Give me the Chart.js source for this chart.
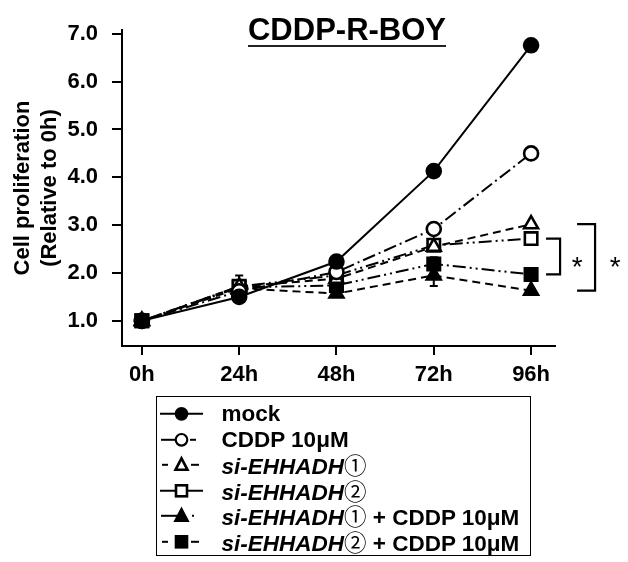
<!DOCTYPE html>
<html><head><meta charset="utf-8">
<script src="https://cdn.jsdelivr.net/npm/chart.js@4.4.1/dist/chart.umd.min.js"></script>
<style>
html,body{margin:0;padding:0;background:#fff;}
#wrap{position:relative;width:628px;height:562px;overflow:hidden;background:#fff;}
#c{position:absolute;left:0;top:0;}
#legend{position:absolute;left:156px;top:396px;width:375px;height:160px;border:1.8px solid #000;box-sizing:border-box;
  font-family:"Liberation Sans",Arial,sans-serif;font-weight:bold;font-size:22.5px;color:#000;padding-top:4px;}
.row{height:25.6px;line-height:25.6px;position:relative;white-space:nowrap;}
.row svg{position:absolute;left:2px;top:0;}
.row .t{position:absolute;left:64.5px;top:0;}
.cd{font-family:"Noto Sans CJK JP","DejaVu Sans",sans-serif;font-style:normal;font-weight:normal;}
</style></head>
<body><div id="wrap"><canvas id="c" width="628" height="562"></canvas><div id="legend"></div></div>
<script>
// ---- data ----
const hours = [0, 24, 48, 72, 96];
const xTickLabels = ['0h', '24h', '48h', '72h', '96h'];
const yTickValues = [1, 2, 3, 4, 5, 6, 7];
const seriesLabels = ['mock', 'CDDP 10μM', 'si-EHHADH①', 'si-EHHADH②', 'si-EHHADH① + CDDP 10μM', 'si-EHHADH② + CDDP 10μM'];
const mock      = [1.00, 1.50, 2.24, 4.13, 6.76];
const cddp      = [1.00, 1.62, 2.02, 2.92, 4.50];
const siE1      = [1.00, 1.72, 1.88, 2.55, 3.02];
const siE2      = [1.00, 1.72, 1.95, 2.58, 2.72];
const siE1Cddp  = [1.00, 1.68, 1.57, 1.95, 1.63];
const siE2Cddp  = [1.00, 1.70, 1.74, 2.19, 1.97];
const mockErr     = [0.02, 0.04, 0.05, 0.06, 0.05];
const cddpErr     = [0.02, 0.05, 0.05, 0.05, 0.05];
const siE1Err     = [0.02, 0.05, 0.05, 0.06, 0.04];
const siE2Err     = [0.02, 0.05, 0.05, 0.06, 0.04];
const siE1CddpErr = [0.02, 0.06, 0.05, 0.22, 0.04];
const siE2CddpErr = [0.02, 0.25, 0.08, 0.14, 0.04];

const FONT = '"Liberation Sans", Arial, sans-serif';
const values = [mock, cddp, siE1, siE2, siE1Cddp, siE2Cddp];
const errs = [mockErr, cddpErr, siE1Err, siE2Err, siE1CddpErr, siE2CddpErr];
const styles = [
  {shape:'circle',   fill:true,  r:7,   dash:[]},
  {shape:'circle',   fill:false, r:7,   dash:[13,4,2,4]},
  {shape:'triangle', fill:false, r:8,   dash:[8,5]},
  {shape:'rect',     fill:false, r:8.8, dash:[13,4,2,4,2,4]},
  {shape:'triangle', fill:true,  r:8,   dash:[8,5]},
  {shape:'rect',     fill:true,  r:8.8, dash:[13,4,2,4,2,4]}
];

const datasets = values.map((v, i) => ({
  label: seriesLabels[i],
  data: hours.map((h, j) => ({x: h, y: v[j]})),
  borderColor: '#000',
  borderWidth: 2,
  borderDash: styles[i].dash,
  pointStyle: styles[i].shape,
  pointRadius: styles[i].r,
  pointHoverRadius: styles[i].r,
  pointBackgroundColor: styles[i].fill ? '#000' : '#fff',
  pointBorderColor: '#000',
  pointBorderWidth: 2.6,
  tension: 0,
  fill: false
}));

const titlePlugin = {
  id: 'titleUnderline',
  afterDraw(chart) {
    const ctx = chart.ctx;
    const text = 'CDDP-R-BOY';
    ctx.save();
    ctx.font = 'bold 31px ' + FONT;
    ctx.fillStyle = '#000';
    ctx.textAlign = 'center';
    ctx.textBaseline = 'middle';
    const cx = 347, cy = 31;
    ctx.fillText(text, cx, cy);
    const w = ctx.measureText(text).width;
    ctx.strokeStyle = '#222';
    ctx.lineWidth = 2.2;
    ctx.beginPath();
    ctx.moveTo(cx - w / 2, 46);
    ctx.lineTo(cx + w / 2, 46);
    ctx.stroke();
    ctx.restore();
  }
};

const errorBarPlugin = {
  id: 'errorBars',
  beforeDatasetsDraw(chart) {
    const ctx = chart.ctx, xs = chart.scales.x, ys = chart.scales.y;
    ctx.save();
    ctx.strokeStyle = '#000';
    ctx.lineWidth = 2;
    values.forEach((v, i) => {
      v.forEach((val, j) => {
        const e = errs[i][j];
        const px = xs.getPixelForValue(hours[j]);
        const top = ys.getPixelForValue(val + e), bot = ys.getPixelForValue(val - e);
        ctx.beginPath();
        ctx.moveTo(px, top); ctx.lineTo(px, bot);
        ctx.moveTo(px - 4, top); ctx.lineTo(px + 4, top);
        ctx.moveTo(px - 4, bot); ctx.lineTo(px + 4, bot);
        ctx.stroke();
      });
    });
    ctx.restore();
  }
};

const bracketPlugin = {
  id: 'brackets',
  afterDraw(chart) {
    const ctx = chart.ctx, xs = chart.scales.x, ys = chart.scales.y;
    const last = hours.length - 1;
    const x96 = xs.getPixelForValue(hours[last]);
    ctx.save();
    ctx.strokeStyle = '#000';
    ctx.lineWidth = 2.2;
    const br = (a, b, x1, x2) => {
      const ya = ys.getPixelForValue(a), yb = ys.getPixelForValue(b);
      ctx.beginPath();
      ctx.moveTo(x1, ya); ctx.lineTo(x2, ya); ctx.lineTo(x2, yb); ctx.lineTo(x1, yb);
      ctx.stroke();
      return (ya + yb) / 2;
    };
    const m1 = br(siE2[last], siE2Cddp[last], x96 + 15, x96 + 29);
    const m2 = br(siE1[last], siE1Cddp[last], x96 + 46, x96 + 64);
    ctx.fillStyle = '#000';
    ctx.font = '28px ' + FONT;
    ctx.textAlign = 'center';
    ctx.textBaseline = 'alphabetic';
    ctx.fillText('*', x96 + 46, m1 + 19);
    ctx.fillText('*', x96 + 84, m2 + 19);
    ctx.restore();
  }
};

new Chart(document.getElementById('c'), {
  type: 'line',
  data: {datasets},
  plugins: [errorBarPlugin, bracketPlugin, titlePlugin],
  options: {
    responsive: false,
    animation: false,
    devicePixelRatio: 1,
    layout: {padding: {top: 30, right: 73, bottom: 166, left: 0}},
    plugins: {legend: {display: false}, tooltip: {enabled: false}, title: {display: false}},
    scales: {
      x: {
        type: 'linear', min: -4.9, max: 101.9,
        afterBuildTicks: s => { s.ticks = hours.map(v => ({value: v})); },
        afterFit: s => { s.height = 50; },
        grid: {display: true, drawOnChartArea: false, drawTicks: true, tickLength: 9, color: '#000', lineWidth: 2},
        border: {display: true, color: '#000', width: 2},
        ticks: {color: '#000', font: {family: FONT, size: 22, weight: 'bold'}, padding: 7,
                maxRotation: 0, callback: v => xTickLabels[hours.indexOf(v)]}
      },
      y: {
        type: 'linear', min: 0.474, max: 7.08,
        afterBuildTicks: s => { s.ticks = yTickValues.map(v => ({value: v})); },
        afterFit: s => { s.width = 122; },
        grid: {display: true, drawOnChartArea: false, drawTicks: true, tickLength: 10, color: '#000', lineWidth: 2},
        border: {display: true, color: '#000', width: 2},
        ticks: {color: '#000', font: {family: FONT, size: 22, weight: 'bold'}, padding: 14,
                callback: v => v.toFixed(1)},
        title: {display: true, text: ['Cell proliferation', '(Relative to 0h)'], color: '#000',
                font: {family: FONT, size: 22, weight: 'bold', lineHeight: 1.2}, padding: {top: 10, bottom: 0}}
      }
    }
  }
});

// ---- HTML legend built from the dataset labels ----
const legendSamples = [
  {segs: [[1, 44]]},
  {segs: [[2, 17], [31, 37]]},
  {segs: [[3, 9], [32, 40]]},
  {segs: [[1, 44]]},
  {segs: [[2, 19], [33, 35]]},
  {segs: [[3, 9], [32, 40]]}
];
function markerSvg(st, cx, cy) {
  const f = st.fill ? '#000' : '#fff';
  if (st.shape === 'circle') return `<circle cx="${cx}" cy="${cy}" r="5.8" fill="${f}" stroke="#000" stroke-width="2.2"/>`;
  if (st.shape === 'rect') return `<rect x="${cx-5.5}" y="${cy-5.5}" width="11" height="11" fill="${f}" stroke="#000" stroke-width="2.6"/>`;
  return `<polygon points="${cx},${cy-6.5} ${cx+6},${cy+5} ${cx-6},${cy+5}" fill="${f}" stroke="#000" stroke-width="2.6" stroke-linejoin="miter"/>`;
}
function labelHtml(s) {
  const m = s.match(/^(si-EHHADH)([①②])(.*)$/);
  if (!m) return s;
  return `<i>${m[1]}</i><span class="cd">${m[2]}</span>${m[3]}`;
}
const lg = document.getElementById('legend');
seriesLabels.forEach((lab, i) => {
  const cy = 12.8, cx = 22.5;
  const lines = legendSamples[i].segs.map(s => `<line x1="${s[0]}" y1="${cy}" x2="${s[1]}" y2="${cy}" stroke="#000" stroke-width="2"/>`).join('');
  const row = document.createElement('div');
  row.className = 'row';
  row.innerHTML = `<svg width="48" height="25.6">${lines}${markerSvg(styles[i], cx, cy)}</svg><span class="t">${labelHtml(lab)}</span>`;
  lg.appendChild(row);
});
</script>
</body></html>
